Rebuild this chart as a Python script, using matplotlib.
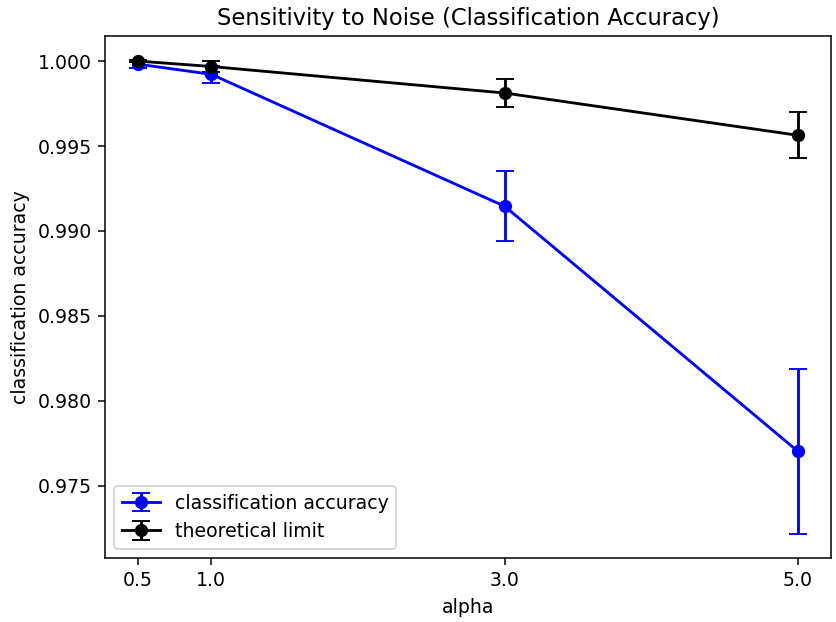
import matplotlib

matplotlib.use("Agg")
import matplotlib.pyplot as plt

# alpha (noise level) on x, accuracy on y
alpha = [0.5, 1.0, 3.0, 5.0]
acc = [0.99982, 0.99922, 0.99145, 0.97702]
acc_err = [0.00025, 0.00050, 0.00207, 0.00488]
limit = [1.00000, 0.99968, 0.99812, 0.99563]
limit_err = [0.00008, 0.00030, 0.00083, 0.00135]
tick_labels = ["0.5", "1.0", "3.0", "5.0"]

dpi = 136
W, H = 836, 622
fig = plt.figure(figsize=(W / dpi, H / dpi), dpi=dpi)
# axes box in pixels: left 105, right 831, top 36, bottom 558
ax = fig.add_axes([105 / W, 1 - 558 / H, (831 - 105) / W, (558 - 36) / H])

ax.errorbar(alpha, acc, yerr=acc_err, fmt="o-", color="blue", capsize=5,
            label="classification accuracy")
ax.errorbar(alpha, limit, yerr=limit_err, fmt="o-", color="black", capsize=5,
            label="theoretical limit")

ax.set_xticks(alpha)
ax.set_xticklabels(tick_labels)
ax.set_xlabel("alpha")
ax.set_ylabel("classification accuracy")
ax.set_title("Sensitivity to Noise (Classification Accuracy)")
ax.legend(loc="lower left")

fig.savefig("out.png", dpi=dpi)
plt.close(fig)
